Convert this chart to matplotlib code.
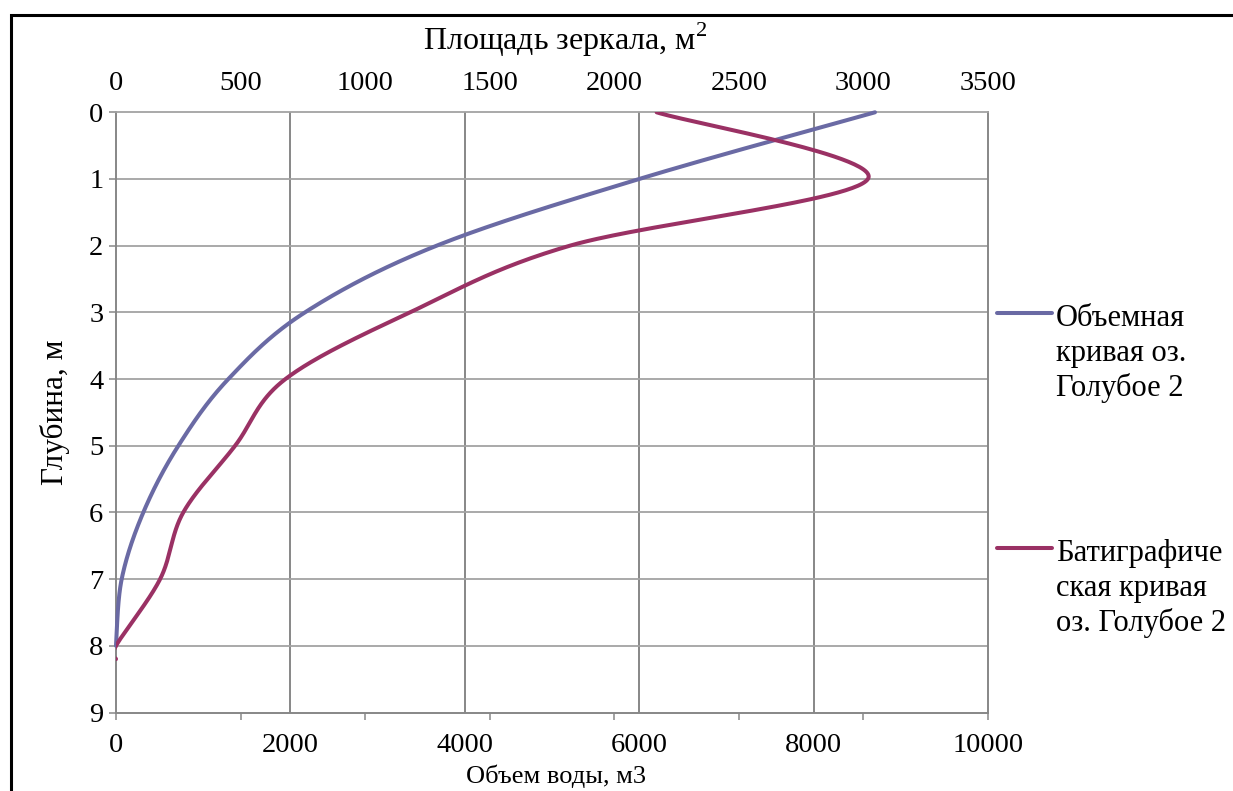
import numpy as np
import matplotlib.pyplot as plt
from matplotlib.lines import Line2D
from matplotlib.patches import Rectangle

plt.rcParams['font.family'] = ['Liberation Serif', 'DejaVu Serif']
plt.rcParams['mathtext.fontset'] = 'custom'
plt.rcParams['mathtext.rm'] = 'Liberation Serif'

# volume curve: depth (m) vs water volume (m3)
depth_vol = [0, 1, 2, 3, 4, 5, 6, 7, 8]
volume = [8704, 6000, 3677, 2167, 1288, 715, 313, 65, 0]

# bathygraphic curve: depth (m) vs surface area (m2)
depth_area = [0, 1, 2, 3, 4, 5, 6, 7, 8, 8.2]
area = [2170, 3018, 1822, 1180, 680, 478, 270, 177, 0, 0]

vol_ticks = [0, 2000, 4000, 6000, 8000, 10000]
area_ticks = [0, 500, 1000, 1500, 2000, 2500, 3000, 3500]
depth_ticks = list(range(10))

labels = ["Объемная\nкривая оз.\nГолубое 2",
          "Батиграфиче\nская кривая\nоз. Голубое 2"]
colors = ['#6a6aa4', '#9a3164']

W, H = 1233, 791
GRID_V = '#878787'
GRID_H = '#a3a3a3'


def smooth(xs, ys, n=60):
    # smoothed line through the points: Catmull-Rom segments as cubic Bezier
    p = np.column_stack([xs, ys]).astype(float)
    pts = np.vstack([p[0], p, p[-1]])
    t = np.linspace(0, 1, n)[:, None]
    out = []
    for i in range(1, len(pts) - 2):
        p0, p1, p2, p3 = pts[i - 1], pts[i], pts[i + 1], pts[i + 2]
        c1 = p1 + (p2 - p0) / 6
        c2 = p2 - (p3 - p1) / 6
        seg = (1 - t)**3 * p1 + 3 * (1 - t)**2 * t * c1 + 3 * (1 - t) * t**2 * c2 + t**3 * p2
        out.append(seg if i == 1 else seg[1:])
    out = np.vstack(out)
    return out[:, 0], out[:, 1]


fig = plt.figure(figsize=(W / 100, H / 100), dpi=100)
left, right, top, bottom = 116, 988, 112.3, 712.5
ax = fig.add_axes([left / W, 1 - bottom / H, (right - left) / W, (bottom - top) / H])
ax.set_xlim(0, 10000)
ax.set_ylim(9, 0)

ax.set_xticks(vol_ticks)
ax.set_yticks(depth_ticks)
ax.tick_params(axis='x', length=0, pad=15, labelsize=20.5)
ax.tick_params(axis='y', length=5, width=1.1, color=GRID_V, pad=4, labelsize=20.5)

# grid: vertical lines for volume, horizontal for depth
for v in vol_ticks[1:-1]:
    ax.axvline(v, color=GRID_V, lw=1.4, zorder=0)
for d in depth_ticks[1:-1]:
    ax.axhline(d, color=GRID_H, lw=1.3, zorder=0)

for side in ['left', 'bottom', 'right']:
    ax.spines[side].set_color(GRID_V)
    ax.spines[side].set_linewidth(1.4)
ax.spines['top'].set_color(GRID_H)
ax.spines['top'].set_linewidth(1.3)

# area scale on top, its tick marks on the bottom spine
ax2 = ax.twiny()
ax2.set_xlim(0, 3500)
ax2.set_xticks(area_ticks)
ax2.tick_params(axis='x', top=False, bottom=True, labeltop=True, labelbottom=False,
                direction='out', length=5, width=1.1, color=GRID_V, pad=7, labelsize=20.5)
for s in ax2.spines.values():
    s.set_visible(False)

vx, vy = smooth(volume, depth_vol)
ax.plot(vx, vy, color=colors[0], lw=2.9, solid_capstyle='round', clip_on=False, zorder=3)
ax_x, ax_y = smooth(area, depth_area)
ax2.plot(ax_x, ax_y, color=colors[1], lw=2.9, solid_capstyle='round', zorder=3)

fig.text(565 / W, 1 - 50 / H, "Площадь зеркала, м$^{2}$", fontsize=23,
         ha='center', va='baseline')
fig.text(556 / W, 1 - 783 / H, "Объем воды, м3", fontsize=19,
         ha='center', va='baseline')
fig.text(55 / W, 1 - 412 / H, "Глубина, м", fontsize=22.5, rotation=90,
         ha='center', va='center')

# legend, one entry per curve with the marker line beside the first text line
for y0, text, c in zip([313, 548], labels, colors):
    fig.add_artist(Line2D([997 / W, 1052 / W], [1 - y0 / H, 1 - y0 / H],
                          color=c, lw=2.9, solid_capstyle='round'))
    for i, line in enumerate(text.split('\n')):
        fig.text(1056 / W, 1 - (y0 + 13 + 35 * i) / H, line, fontsize=22,
                 ha='left', va='baseline')

# outer frame of the chart
fig.add_artist(Rectangle((10.5 / W, -0.05), 1240 / W, 1.05 - 15 / H,
                         transform=fig.transFigure, fill=False,
                         edgecolor='black', lw=2.2))

fig.savefig('out.png', dpi=100)
